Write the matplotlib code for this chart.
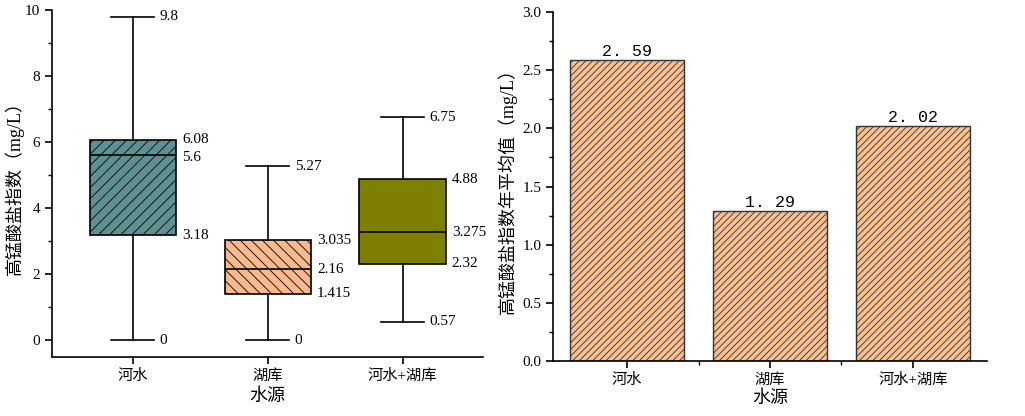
import matplotlib
matplotlib.use('Agg')
import matplotlib.pyplot as plt
from matplotlib.ticker import MultipleLocator, FixedLocator

plt.rcParams['font.family'] = ['Liberation Serif', 'Noto Sans CJK SC']
plt.rcParams['hatch.linewidth'] = 0.6

# data
sources = ['河水', '湖库', '河水+湖库']
box_min = [0, 0, 0.57]
box_q1 = [3.18, 1.415, 2.32]
box_med = [5.6, 2.16, 3.275]
box_q3 = [6.08, 3.035, 4.88]
box_max = [9.8, 5.27, 6.75]
box_colors = ['#5e9191', '#f7b98d', '#808000']
box_hatch = ['///', '\\\\\\', '']
mean_vals = [2.59, 1.29, 2.02]
bar_color = '#f7bf8f'

fig = plt.figure(figsize=(10.25, 4.16), dpi=100)

# left: box plot
ax1 = fig.add_axes([0.0507, 0.142, 0.421, 0.834])
stats = []
for i in range(3):
    stats.append(dict(whislo=box_min[i], q1=box_q1[i], med=box_med[i],
                      q3=box_q3[i], whishi=box_max[i], fliers=[], label=sources[i]))
bp = ax1.bxp(stats, positions=[1, 2, 3], widths=0.64, patch_artist=True,
             showfliers=False, capwidths=0.32,
             boxprops=dict(linewidth=1.2, edgecolor='black'),
             medianprops=dict(color='black', linewidth=1.2),
             whiskerprops=dict(color='black', linewidth=1.2),
             capprops=dict(color='black', linewidth=1.2))
for patch, c, h in zip(bp['boxes'], box_colors, box_hatch):
    patch.set_facecolor(c)
    patch.set_hatch(h)

for i in range(3):
    x = i + 1
    for v in [box_min[i], box_max[i]]:
        ax1.text(x + 0.2, v, f'{v:g}', va='center', ha='left', fontsize=11)
    ax1.text(x + 0.365, box_q3[i], f'{box_q3[i]:g}', va='center', ha='left', fontsize=11)
    ax1.text(x + 0.365, box_q1[i], f'{box_q1[i]:g}', va='center', ha='left', fontsize=11)
    # median label, nudged when close to q3
    ym = box_med[i]
    if box_q3[i] - ym < 0.6:
        ym = ym - 0.05
    ax1.text(x + 0.365, ym, f'{box_med[i]:g}', va='center', ha='left', fontsize=11)

ax1.set_xlim(0.4, 3.6)
ax1.set_ylim(-0.5, 10)
ax1.yaxis.set_major_locator(MultipleLocator(2))
ax1.yaxis.set_minor_locator(MultipleLocator(1))
ax1.set_ylabel('高锰酸盐指数（mg/L）', fontsize=13, labelpad=1)
ax1.set_xlabel('水源', fontsize=13)

# right: mean bars
ax2 = fig.add_axes([0.5395, 0.132, 0.4235, 0.839])
ax2.bar([1, 2, 3], mean_vals, width=0.8, color=bar_color, edgecolor='#333333',
        linewidth=1.0, hatch='/////')
for i, v in enumerate(mean_vals):
    ax2.text(i + 1, v + 0.01, f'{v:.2f}'.replace('.', '. '), ha='center', va='bottom',
             fontsize=12, family=['Liberation Mono', 'Noto Sans CJK SC'])
ax2.set_xlim(0.48, 3.52)
ax2.set_ylim(0, 3)
ax2.set_xticks([1, 2, 3])
ax2.set_xticklabels(sources)
ax2.xaxis.set_minor_locator(FixedLocator([1.5, 2.5]))
ax2.yaxis.set_major_locator(MultipleLocator(0.5))
ax2.yaxis.set_minor_locator(MultipleLocator(0.25))
ax2.set_ylabel('高锰酸盐指数年平均值（mg/L）', fontsize=13)
ax2.set_xlabel('水源', fontsize=13, labelpad=2)

for ax in [ax1, ax2]:
    ax.spines['top'].set_visible(False)
    ax.spines['right'].set_visible(False)
    ax.spines['left'].set_linewidth(1.2)
    ax.spines['bottom'].set_linewidth(1.2)
    ax.tick_params(axis='both', which='major', direction='out', length=5, width=1.2,
                   labelsize=11)
    ax.tick_params(axis='both', which='minor', direction='out', length=3, width=1.0)
    for lab in ax.get_xticklabels():
        lab.set_fontsize(11)

fig.savefig('out.png', dpi=100)
